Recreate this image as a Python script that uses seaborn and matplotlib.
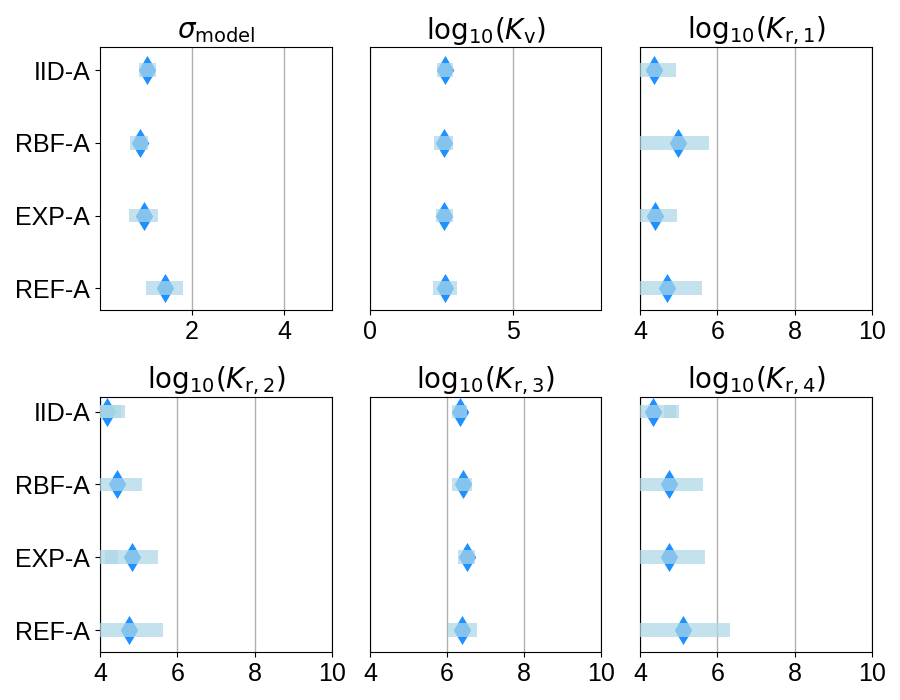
import matplotlib
matplotlib.use("Agg")
import matplotlib.pyplot as plt
import seaborn as sns
import pandas as pd
import numpy as np

# categories (top to bottom)
models = ["IID-A", "RBF-A", "EXP-A", "REF-A"]

# sigma_model
sigma_mid = [1.03, 0.87, 0.95, 1.41]
sigma_lo = [0.85, 0.65, 0.62, 0.99]
sigma_hi = [1.22, 1.05, 1.27, 1.81]

# log10(K_v)
kv_mid = [2.63, 2.59, 2.60, 2.62]
kv_lo = [2.34, 2.24, 2.31, 2.20]
kv_hi = [2.90, 2.90, 2.90, 3.04]

# log10(K_r,1)
kr1_mid = [4.37, 4.97, 4.39, 4.70]
kr1_lo = [3.70, 3.90, 3.70, 3.60]
kr1_hi = [4.92, 5.78, 4.95, 5.60]

# log10(K_r,2)
kr2_mid = [4.18, 4.44, 4.83, 4.75]
kr2_lo = [3.60, 3.90, 4.12, 3.70]
kr2_hi = [4.64, 5.08, 5.50, 5.63]
# second, overlapping interval (only where visible)
kr2_lo2 = [3.60, np.nan, 3.60, np.nan]
kr2_hi2 = [4.55, np.nan, 4.46, np.nan]

# log10(K_r,3)
kr3_mid = [6.33, 6.42, 6.52, 6.40]
kr3_lo = [6.12, 6.12, 6.28, 6.02]
kr3_hi = [6.53, 6.66, 6.74, 6.77]

# log10(K_r,4)
kr4_mid = [4.34, 4.74, 4.75, 5.12]
kr4_lo = [3.70, 3.90, 3.90, 3.80]
kr4_hi = [4.93, 5.63, 5.68, 6.33]
kr4_lo2 = [4.62, np.nan, np.nan, np.nan]
kr4_hi2 = [5.00, np.nan, np.nan, np.nan]

nan4 = [np.nan] * 4

titles = [r"$\sigma_\mathrm{model}$", r"$\mathrm{log}_{10}(K_\mathrm{v})$",
          r"$\mathrm{log}_{10}(K_\mathrm{r,1})$", r"$\mathrm{log}_{10}(K_\mathrm{r,2})$",
          r"$\mathrm{log}_{10}(K_\mathrm{r,3})$", r"$\mathrm{log}_{10}(K_\mathrm{r,4})$"]
xlims = [(0, 5.04), (0, 8.08), (4, 10), (4, 10), (4, 10), (4, 10)]
xticks = [[2, 4], [0, 5], [4, 6, 8, 10], [4, 6, 8, 10], [4, 6, 8, 10], [4, 6, 8, 10]]

panels = [(sigma_mid, sigma_lo, sigma_hi, nan4, nan4),
          (kv_mid, kv_lo, kv_hi, nan4, nan4),
          (kr1_mid, kr1_lo, kr1_hi, nan4, nan4),
          (kr2_mid, kr2_lo, kr2_hi, kr2_lo2, kr2_hi2),
          (kr3_mid, kr3_lo, kr3_hi, nan4, nan4),
          (kr4_mid, kr4_lo, kr4_hi, kr4_lo2, kr4_hi2)]

plt.rcParams["font.family"] = ["Liberation Sans", "DejaVu Sans"]
plt.rcParams["mathtext.fontset"] = "dejavusans"

fig, axes = plt.subplots(2, 3, figsize=(9, 7), dpi=100)

# axes boxes in pixels: columns (left, right), rows (top, bottom)
cols = [(100, 332), (370, 601), (640, 872)]
rows = [(47, 310), (397, 652)]

for i, ax in enumerate(axes.flat):
    r, c = divmod(i, 3)
    x0, x1 = cols[c]
    y0, y1 = rows[r]
    ax.set_position([x0 / 900, 1 - y1 / 700, (x1 - x0) / 900, (y1 - y0) / 700])

    mid, lo, hi, lo2, hi2 = panels[i]
    df = pd.DataFrame({"model": models, "mid": mid, "lo": lo, "hi": hi,
                       "lo2": lo2, "hi2": hi2})

    # point estimate underneath, interval band drawn over it
    sns.scatterplot(data=df, x="mid", y="model", ax=ax, marker="d", s=220,
                    color="dodgerblue", linewidth=0, zorder=2)
    ax.barh(df["model"], df["hi"] - df["lo"], left=df["lo"], height=0.19,
            color="lightblue", alpha=0.72, zorder=3)
    extra = df.dropna(subset=["lo2"])
    if len(extra):
        ax.barh(extra["model"], extra["hi2"] - extra["lo2"], left=extra["lo2"],
                height=0.19, color="lightblue", alpha=0.72, zorder=3)

    ax.set_xlim(*xlims[i])
    ax.set_xticks(xticks[i])
    ax.set_ylim(3.3, -0.32 if r == 0 else -0.2)
    ax.grid(axis="x", color="#b0b0b0", linewidth=1)
    ax.set_axisbelow(True)
    ax.set_xlabel("")
    ax.set_ylabel("")
    ax.set_title(titles[i], fontsize=20)
    ax.tick_params(axis="x", labelsize=18)
    if c == 0:
        ax.tick_params(axis="y", labelsize=18)
    else:
        ax.set_yticks([])

fig.savefig("out.png", dpi=100)
plt.close(fig)
